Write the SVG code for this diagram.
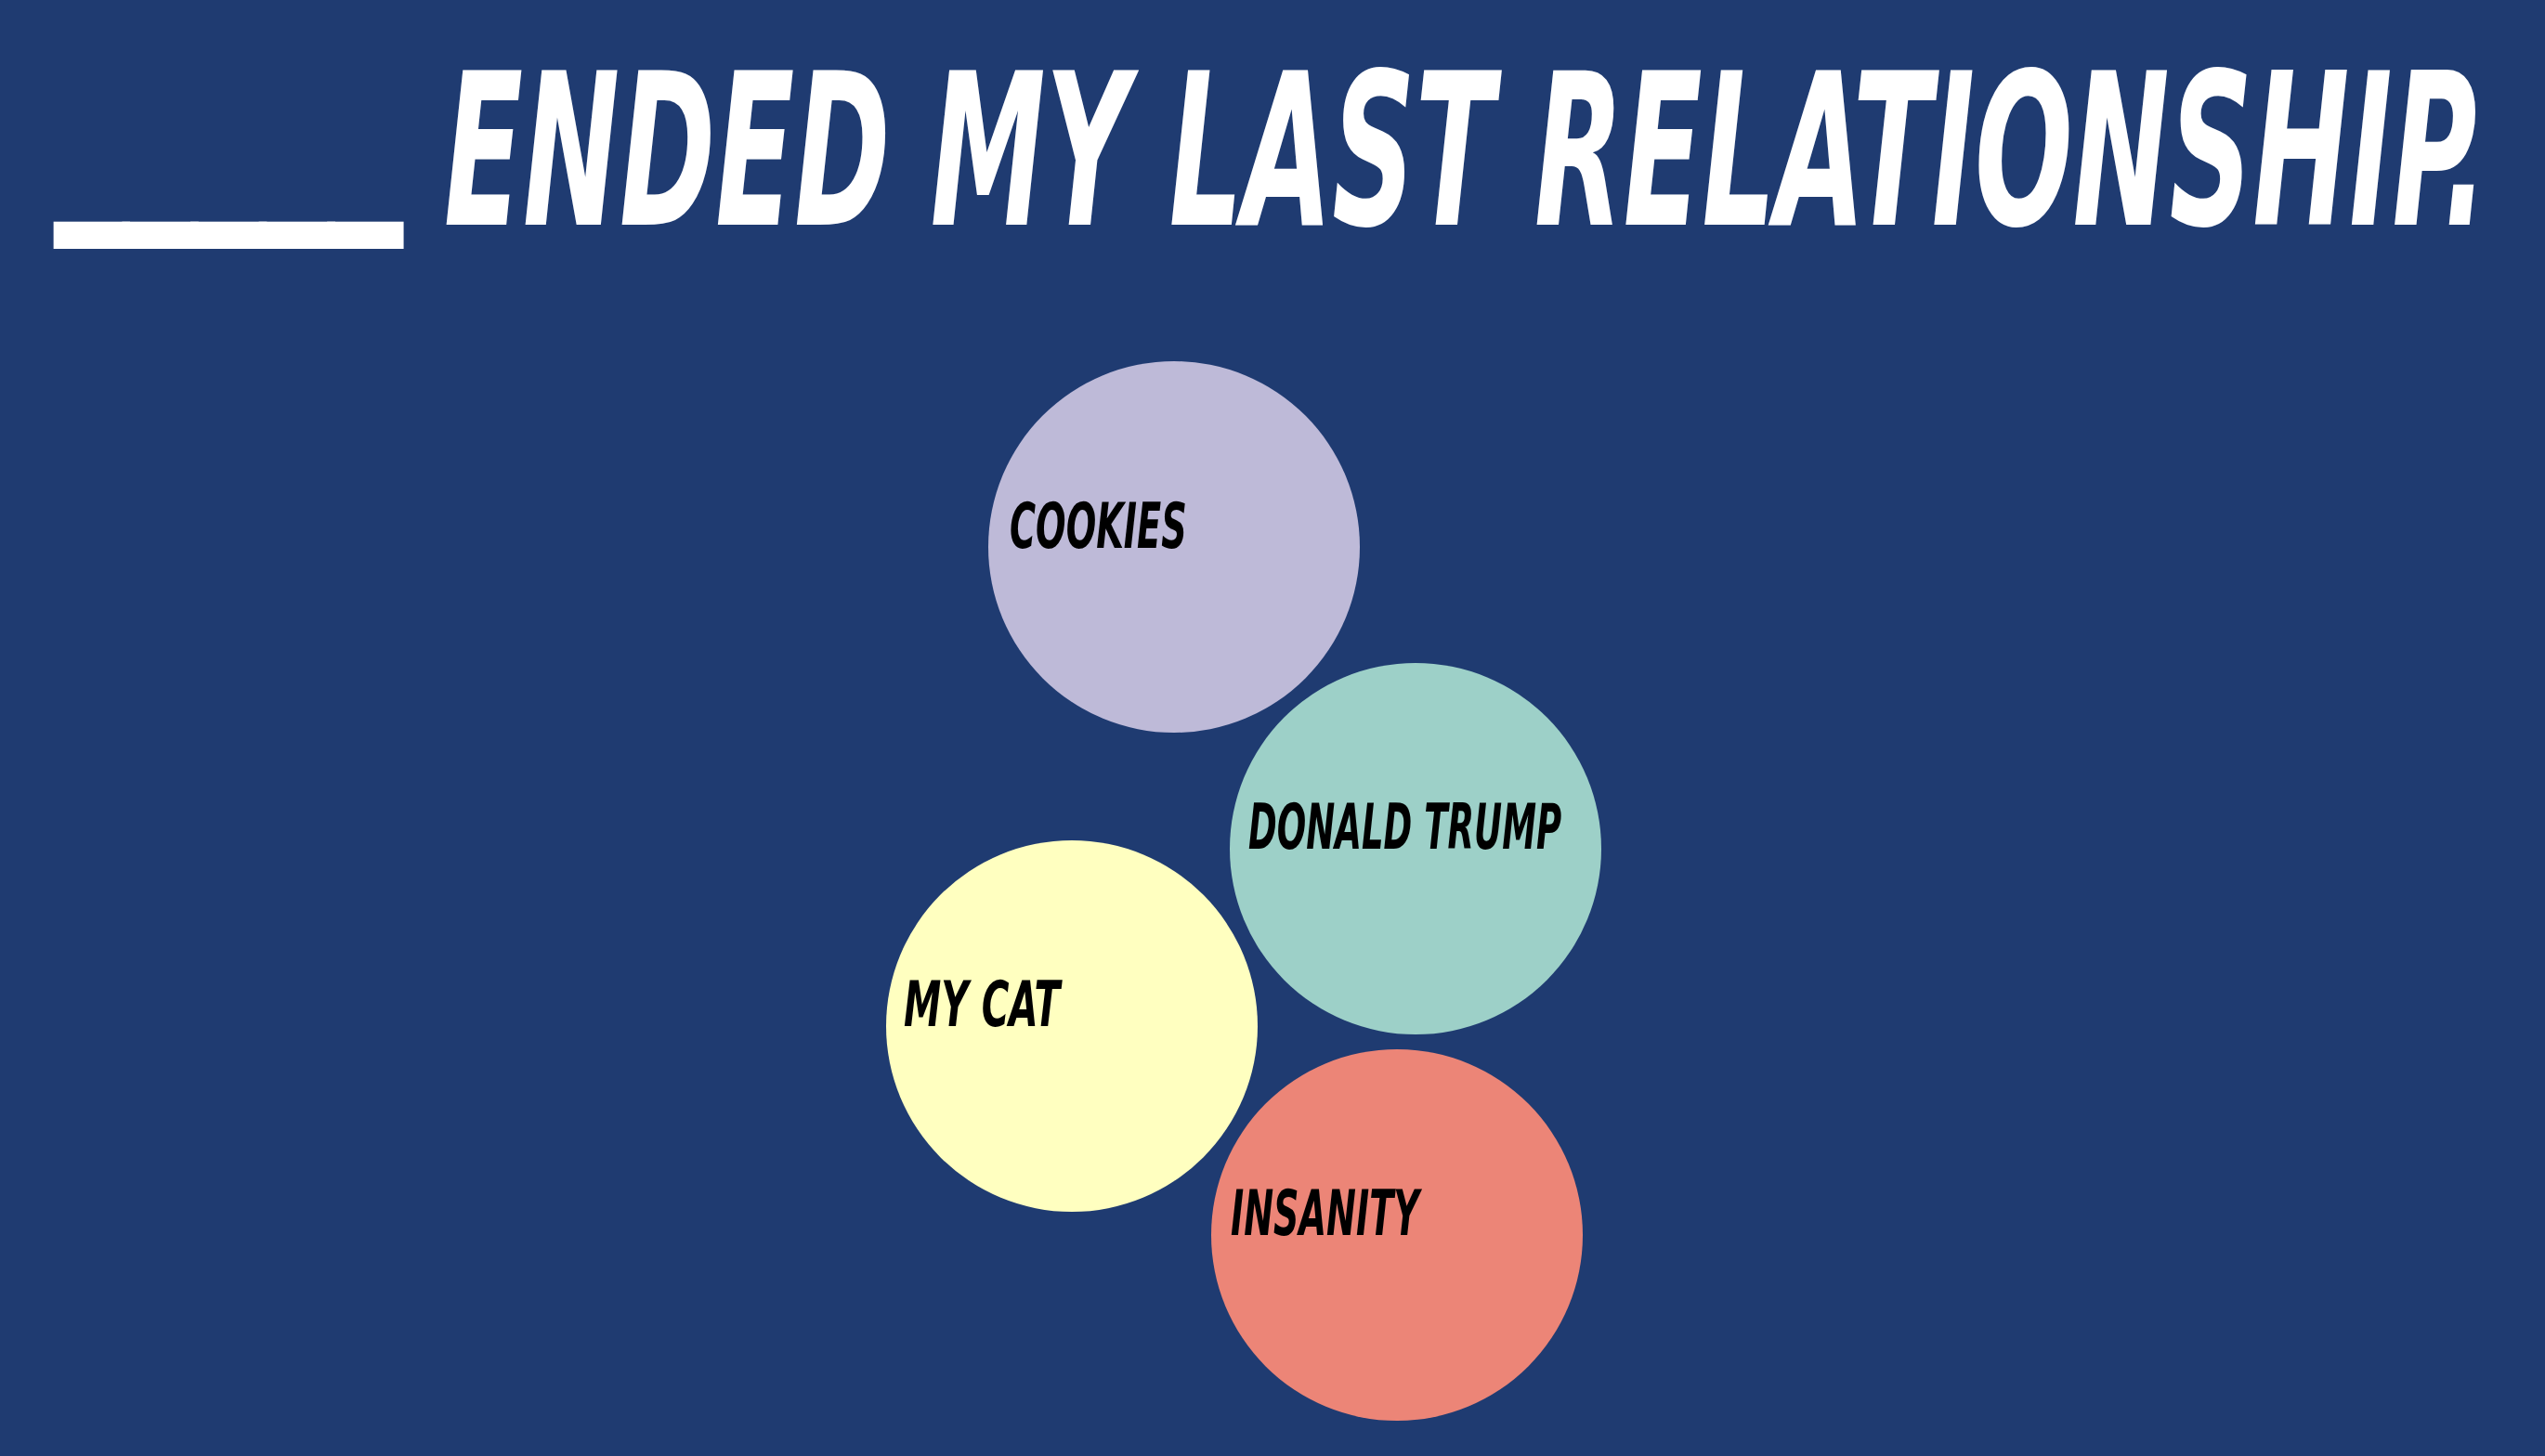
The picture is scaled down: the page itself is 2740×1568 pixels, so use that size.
<svg xmlns="http://www.w3.org/2000/svg" width="2740" height="1568" viewBox="0 0 2740 1568">
<style>
.title{font-family:"DejaVu Sans Condensed","DejaVu Sans","Liberation Sans",sans-serif;font-weight:bold;font-style:italic;fill:#ffffff;font-size:228px}
.lbl{font-family:"DejaVu Sans Condensed","DejaVu Sans","Liberation Sans",sans-serif;font-weight:bold;font-style:italic;fill:#000000;font-size:68px}
</style>
<rect x="0" y="0" width="2740" height="1568" fill="#1F3B71"/>
<g id="title">
<text class="title" transform="translate(62,210) scale(0.7,1)" x="0" y="0" textLength="526" lengthAdjust="spacingAndGlyphs" stroke="#ffffff" stroke-width="8">_____</text>
<text class="title" transform="translate(478,242) scale(0.6,1)" x="0" y="0" textLength="3667" lengthAdjust="spacingAndGlyphs">ENDED MY LAST RELATIONSHIP.</text>
</g>
<g id="connectors"></g>
<g id="cookies">
<circle cx="1264" cy="589" r="200" fill="#BEBAD8"/>
<text class="lbl" transform="translate(1087,590) scale(0.6,1)" x="0" y="0" textLength="318" lengthAdjust="spacingAndGlyphs">COOKIES</text>
</g>
<g id="donald-trump">
<circle cx="1524" cy="914" r="200" fill="#9DD0C8"/>
<text class="lbl" transform="translate(1344,914) scale(0.6,1)" x="0" y="0" textLength="562" lengthAdjust="spacingAndGlyphs">DONALD TRUMP</text>
</g>
<g id="my-cat">
<circle cx="1154" cy="1105" r="200" fill="#FFFFC0"/>
<text class="lbl" transform="translate(973,1105) scale(0.6,1)" x="0" y="0" textLength="280" lengthAdjust="spacingAndGlyphs">MY CAT</text>
</g>
<g id="insanity">
<circle cx="1504" cy="1330" r="200" fill="#EC8577"/>
<text class="lbl" transform="translate(1325,1330) scale(0.6,1)" x="0" y="0" textLength="338" lengthAdjust="spacingAndGlyphs">INSANITY</text>
</g>
</svg>
